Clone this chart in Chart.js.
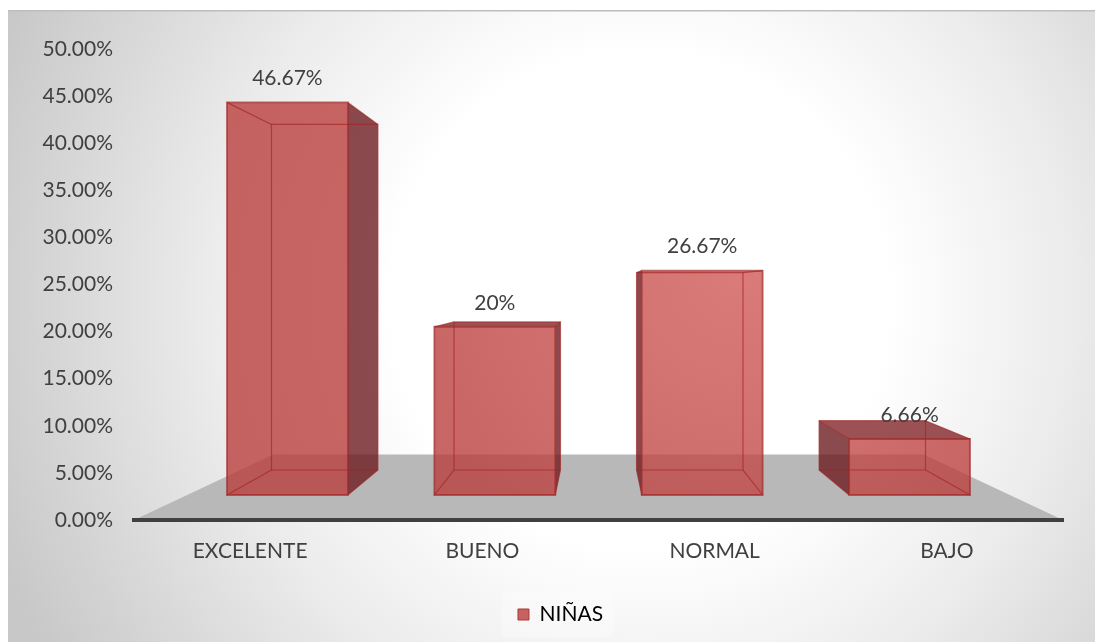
<!DOCTYPE html>
<html>
<head>
<meta charset="utf-8">
<script src="https://cdn.jsdelivr.net/npm/chart.js@4.4.1/dist/chart.umd.min.js"></script>
<style>
  html, body { margin: 0; padding: 0; background: #ffffff; }
  #wrap { width: 1095px; height: 642px; position: relative; }
  canvas { display: block; }
</style>
</head>
<body>
<div id="wrap"><canvas id="chart" width="1095" height="642"></canvas></div>
<script>
// ---- data ----
const categories = ['EXCELENTE', 'BUENO', 'NORMAL', 'BAJO'];
const ninas = [0.4667, 0.20, 0.2667, 0.0666];
const valueLabels = ['46.67%', '20%', '26.67%', '6.66%'];
const tickValues = [0, 0.05, 0.10, 0.15, 0.20, 0.25, 0.30, 0.35, 0.40, 0.45, 0.50];
const tickLabels = ['0.00%', '5.00%', '10.00%', '15.00%', '20.00%', '25.00%',
                    '30.00%', '35.00%', '40.00%', '45.00%', '50.00%'];
const seriesName = 'NIÑAS';

// ---- look ----
const FONT = 'Lato, "Open Sans", sans-serif';
const FONT_SIZE = 21;
const TEXT = '#404040';
const SIDE_FILL = 'rgba(108,27,30,0.79)';
const TOP_FILL = 'rgba(130,36,38,0.79)';
const EDGE = 'rgba(160,35,35,0.65)';
const FLOOR = '#b8b8b8';

// perspective: depth factors relative to the axis (front of the floor) plane
const HORIZON = 0.248;     // value at eye level
const BAR_FRONT = 0.893;
const BAR_BACK = 0.786;
const FLOOR_BACK = 0.72;
const FLOOR_BACK_X = 0.70;

function project(chart, px, py, s, sx) {
  const xs = chart.scales.x, ys = chart.scales.y;
  const vx = (xs.left + xs.right) / 2;
  const vy = ys.getPixelForValue(HORIZON);
  return [vx + (sx === undefined ? s : sx) * (px - vx), vy + s * (py - vy)];
}

function quad(ctx, pts) {
  ctx.beginPath();
  ctx.moveTo(pts[0][0], pts[0][1]);
  for (let i = 1; i < pts.length; i++) ctx.lineTo(pts[i][0], pts[i][1]);
  ctx.closePath();
}

function seg(ctx, a, b) {
  ctx.beginPath();
  ctx.moveTo(a[0], a[1]);
  ctx.lineTo(b[0], b[1]);
  ctx.stroke();
}

const scenePlugin = {
  id: 'scene',
  afterLayout(chart) {
    // legend entry sits a little right of the canvas centre
    const lg = chart.legend;
    if (lg) { lg.left += 29; lg.right += 29; lg.top += 3; lg.bottom += 3; }
  },
  beforeDraw(chart) {
    const ctx = chart.ctx;
    const W = chart.width, H = chart.height;
    ctx.save();
    ctx.fillStyle = '#ffffff';
    ctx.fillRect(0, 0, W, H);
    // chart panel with radial shading
    const g = ctx.createRadialGradient(640, 300, 0, 640, 300, 690);
    g.addColorStop(0, '#ffffff');
    g.addColorStop(0.36, '#ffffff');
    g.addColorStop(0.62, '#ececec');
    g.addColorStop(0.85, '#d6d6d6');
    g.addColorStop(1, '#c8c8c8');
    ctx.fillStyle = g;
    ctx.fillRect(8, 10, W - 8, H - 10);
    ctx.fillStyle = '#bdbdbd';
    ctx.fillRect(8, 10, W - 8, 1.5);

    // floor
    const xs = chart.scales.x, ys = chart.scales.y;
    const y0 = ys.getPixelForValue(0);
    const a = [xs.left, y0], b = [xs.right, y0];
    const c = project(chart, xs.right, y0, FLOOR_BACK, FLOOR_BACK_X);
    const d = project(chart, xs.left, y0, FLOOR_BACK, FLOOR_BACK_X);
    ctx.fillStyle = FLOOR;
    quad(ctx, [a, b, c, d]);
    ctx.fill();

    // soft panel behind the legend entry
    const lg = chart.legend;
    if (lg) {
      ctx.font = FONT_SIZE + 'px ' + FONT;
      const tw = ctx.measureText(seriesName).width;
      const itemW = 11 + FONT_SIZE / 2 + tw;
      const x0 = (lg.left + lg.right) / 2 - itemW / 2;
      const cy = lg.top + 10 + FONT_SIZE / 2;
      ctx.fillStyle = 'rgba(255,255,255,0.28)';
      ctx.fillRect(x0 - 16, cy - 23, itemW + 26, 46);
    }
    ctx.restore();
  },
  afterDatasetsDraw(chart) {
    const ctx = chart.ctx;
    const ys = chart.scales.y;
    const meta = chart.getDatasetMeta(0);
    // front faces pick up a soft highlight towards the middle right
    const frontFill = ctx.createRadialGradient(740, 270, 0, 740, 270, 330);
    frontFill.addColorStop(0, 'rgba(208,88,86,0.79)');
    frontFill.addColorStop(1, 'rgba(185,61,59,0.79)');
    ctx.save();
    meta.data.forEach((el, i) => {
      const p = el.getProps(['x', 'width', 'base'], true);
      const xl = p.x - p.width / 2, xr = p.x + p.width / 2;
      const yt = ys.getPixelForValue(ninas[i]);
      const yb = p.base;
      const FLT = project(chart, xl, yt, BAR_FRONT), FRT = project(chart, xr, yt, BAR_FRONT);
      const FRB = project(chart, xr, yb, BAR_FRONT), FLB = project(chart, xl, yb, BAR_FRONT);
      const BLT = project(chart, xl, yt, BAR_BACK), BRT = project(chart, xr, yt, BAR_BACK);
      const BRB = project(chart, xr, yb, BAR_BACK), BLB = project(chart, xl, yb, BAR_BACK);

      // side faces seen from outside
      if (BRT[0] > FRT[0]) { ctx.fillStyle = SIDE_FILL; quad(ctx, [FRT, BRT, BRB, FRB]); ctx.fill(); }
      if (BLT[0] < FLT[0]) { ctx.fillStyle = SIDE_FILL; quad(ctx, [FLT, BLT, BLB, FLB]); ctx.fill(); }
      if (BLT[1] < FLT[1]) { ctx.fillStyle = TOP_FILL; quad(ctx, [FLT, BLT, BRT, FRT]); ctx.fill(); }
      // front face
      ctx.fillStyle = frontFill;
      quad(ctx, [FLT, FRT, FRB, FLB]);
      ctx.fill();

      // edges
      ctx.strokeStyle = EDGE;
      ctx.lineWidth = 1.2;
      quad(ctx, [BLT, BRT, BRB, BLB]); ctx.stroke();
      seg(ctx, FLT, BLT); seg(ctx, FRT, BRT); seg(ctx, FRB, BRB); seg(ctx, FLB, BLB);
      ctx.lineWidth = 1.8;
      quad(ctx, [FLT, FRT, FRB, FLB]); ctx.stroke();

      // value label
      ctx.fillStyle = TEXT;
      ctx.font = FONT_SIZE + 'px ' + FONT;
      ctx.textAlign = 'center';
      ctx.textBaseline = 'middle';
      ctx.fillText(valueLabels[i], (FLT[0] + FRT[0]) / 2, FLT[1] - 24);
    });
    ctx.restore();
  }
};

new Chart(document.getElementById('chart'), {
  type: 'bar',
  data: {
    labels: categories,
    datasets: [{
      label: seriesName,
      data: ninas,
      backgroundColor: 'rgba(0,0,0,0)',
      borderWidth: 0,
      categoryPercentage: 1,
      barPercentage: 0.583
    }]
  },
  options: {
    responsive: false,
    animation: false,
    events: [],
    layout: { padding: { left: 0, right: 32, top: 49, bottom: 10 } },
    scales: {
      x: {
        grid: { display: false, drawTicks: false },
        border: { display: true, color: '#404040', width: 4 },
        ticks: { color: TEXT, font: { family: FONT, size: FONT_SIZE }, padding: 19 },
        afterFit(scale) { scale.height = 71; }
      },
      y: {
        min: 0,
        max: 0.5,
        grid: { display: false, drawTicks: false },
        border: { display: false },
        afterBuildTicks(scale) { scale.ticks = tickValues.map(v => ({ value: v })); },
        ticks: {
          color: TEXT,
          font: { family: FONT, size: FONT_SIZE },
          padding: 21,
          callback: (v, i) => tickLabels[i]
        },
        afterFit(scale) { scale.width = 134; }
      }
    },
    plugins: {
      tooltip: { enabled: false },
      legend: {
        position: 'bottom',
        labels: {
          color: TEXT,
          font: { family: FONT, size: FONT_SIZE },
          boxWidth: 11,
          boxHeight: 11,
          padding: 10,
          generateLabels: () => [{
            text: seriesName,
            fillStyle: 'rgba(200,98,96,1)',
            strokeStyle: '#a83a38',
            lineWidth: 1,
            hidden: false,
            datasetIndex: 0
          }]
        }
      }
    }
  },
  plugins: [scenePlugin]
});
</script>
</body>
</html>
